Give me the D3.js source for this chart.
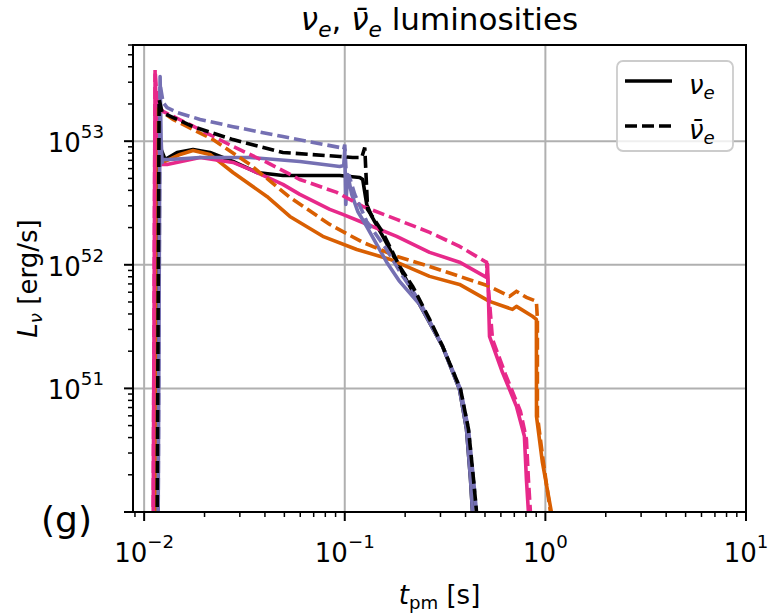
<!DOCTYPE html>
<html><head><meta charset="utf-8">
<script src="https://cdn.jsdelivr.net/npm/d3@7"></script>
<style>body{margin:0;background:#fff}svg{display:block}</style>
</head><body><svg id="c" width="770" height="615"></svg>
<script>
// ---- data: time [s], luminosity [erg/s] ----
const seriesNames = ["black", "orange", "magenta", "purple"];
const seriesColors = ["#000000", "#d95f02", "#e7298a", "#7570b3"];
const xTickExps = [-2, -1, 0, 1];
const yTickExps = [51, 52, 53];
const legendLabels = ["νe", "ν̄e"];

const blackNue = [[0.01161,8e49],[0.01174,1.5e53],[0.01215,8.57e52],[0.01272,7.11e52],[0.01459,8.1e52],[0.01753,8.57e52],[0.0213,8.1e52],[0.02772,6.85e52],[0.0365,5.58e52],[0.04914,5.28e52],[0.09443,5.28e52],[0.1188,5.09e52],[0.1229,4.9e52],[0.1287,3.08e52],[0.1363,2.46e52],[0.1581,1.6e52],[0.1877,9.53e51],[0.236,4.78e51],[0.3073,2.19e51],[0.3733,9.83e50],[0.4045,4.67e50],[0.4235,1.84e50],[0.4333,1.0e50],[0.437,8e49]];
const blackAnue = [[0.01161,8e49],[0.01188,2.17e53],[0.01229,1.71e53],[0.01753,1.31e53],[0.02772,1.03e53],[0.04914,8.1e52],[0.09443,7.52e52],[0.1096,7.38e52],[0.1215,7.38e52],[0.1258,8.89e52],[0.130,2.81e52],[0.1546,1.83e52],[0.1877,9.7e51],[0.218,6.69e51],[0.2648,3.62e51],[0.3073,2.19e51],[0.3777,9.83e50],[0.4138,4.67e50],[0.4383,1.84e50],[0.4536,1.0e50],[0.458,8e49]];
const purpleNue = [[0.01174,8e49],[0.01201,3.33e53],[0.01215,1.03e53],[0.01229,6.73e52],[0.01243,7.11e52],[0.01347,7.11e52],[0.019,7.38e52],[0.03368,7.38e52],[0.05971,6.85e52],[0.09443,6.24e52],[0.09886,6.36e52],[0.1,8.57e52],[0.1012,3.08e52],[0.1035,5.38e52],[0.1083,3.71e52],[0.1161,2.7e52],[0.1287,2.04e52],[0.1618,1.05e52],[0.1877,7.34e51],[0.236,4.78e51],[0.3073,2.19e51],[0.3733,9.83e50],[0.4045,4.67e50],[0.4235,1.84e50],[0.4333,1.0e50],[0.437,8e49]];
const purpleAnue = [[0.01174,8e49],[0.01201,2.87e53],[0.01243,2.06e53],[0.01301,1.87e53],[0.01459,1.71e53],[0.019,1.5e53],[0.02772,1.31e53],[0.04914,1.09e53],[0.09443,8.89e52],[0.09886,8.57e52],[0.1,9.4e52],[0.1023,4.47e52],[0.1047,5.38e52],[0.1122,3.71e52],[0.1287,2.24e52],[0.1618,1.33e52],[0.1877,8.84e51],[0.236,5.06e51],[0.3073,2.19e51],[0.3777,9.83e50],[0.4138,4.67e50],[0.4383,1.84e50],[0.4536,1.0e50],[0.458,8e49]];
const magentaNue = [[0.01109,8e49],[0.01134,3.46e53],[0.01161,1.24e53],[0.01201,6.48e52],[0.01301,6.48e52],[0.019,7.38e52],[0.02772,6.73e52],[0.03368,5.91e52],[0.04914,4.47e52],[0.05971,3.71e52],[0.0842,2.81e52],[0.09775,2.56e52],[0.1229,2.2e52],[0.1814,1.7e52],[0.2648,1.26e52],[0.3733,1.05e52],[0.5087,7.91e51],[0.5146,1.01e52],[0.5206,5.25e51],[0.5266,2.64e51],[0.6109,1.35e51],[0.7173,7.17e50],[0.786,4.1e50],[0.8044,1.84e50],[0.8231,1.0e50],[0.826,8e49]];
const magentaAnue = [[0.01109,8e49],[0.01134,3.8e53],[0.01161,1.98e53],[0.01243,1.74e53],[0.019,1.24e53],[0.02772,9.06e52],[0.04092,6.73e52],[0.05971,4.9e52],[0.09125,3.85e52],[0.1229,2.97e52],[0.1814,2.33e52],[0.2648,1.83e52],[0.3733,1.41e52],[0.4972,1.07e52],[0.5087,1.05e52],[0.5206,6.33e51],[0.5449,2.5e51],[0.6324,1.3e51],[0.7511,6.53e50],[0.8044,3.88e50],[0.8231,1.84e50],[0.8421,1.0e50],[0.846,8e49]];
const orangeNue = [[0.01134,8e49],[0.01147,1.36e53],[0.01188,7.11e52],[0.01272,6.85e52],[0.0151,7.81e52],[0.01753,8.41e52],[0.0213,7.81e52],[0.02772,5.58e52],[0.04092,3.57e52],[0.05325,2.46e52],[0.07773,1.7e52],[0.1148,1.33e52],[0.1674,1.11e52],[0.2648,8.06e51],[0.3733,6.94e51],[0.5266,5.06e51],[0.6851,4.36e51],[0.7173,4.61e51],[0.8617,3.83e51],[0.902,3.62e51],[0.903,5.95e50],[0.9663,2.53e50],[1.0712,1.0e50],[1.08,8e49]];
const orangeAnue = [[0.01134,8e49],[0.01161,1.8e53],[0.01243,1.71e53],[0.01394,1.5e53],[0.02204,1.03e53],[0.03368,6.48e52],[0.05325,3.51e52],[0.0842,2.12e52],[0.1229,1.52e52],[0.1814,1.17e52],[0.2648,9.7e51],[0.3733,8.06e51],[0.5266,6.69e51],[0.6622,5.55e51],[0.7173,6.1e51],[0.8044,5.45e51],[0.902,5.06e51],[0.9125,3.62e51],[0.9125,6e50],[0.9772,2.53e50],[1.06,1e50],[1.08,8e49]];

// ---- layout ----
const svg = d3.select("#c");
const L = 133, R = 746, T = 45, B = 512;
const FONT = "DejaVu Sans, sans-serif";
const LW = 3.6, DASH = "12,5";
const x = d3.scaleLog().domain([0.0088, 10]).range([L, R]);
const y = d3.scaleLog().domain([1e50, 6e53]).range([B, T]);

svg.append("defs").append("clipPath").attr("id", "clip")
  .append("rect").attr("x", L).attr("y", T).attr("width", R - L).attr("height", B - T);

// grid
const g = svg.append("g");
xTickExps.forEach(e => {
  g.append("line").attr("x1", x(Math.pow(10, e))).attr("x2", x(Math.pow(10, e)))
    .attr("y1", T).attr("y2", B).attr("stroke", "#b0b0b0").attr("stroke-width", 2);
});
yTickExps.forEach(e => {
  g.append("line").attr("y1", y(Math.pow(10, e))).attr("y2", y(Math.pow(10, e)))
    .attr("x1", L).attr("x2", R).attr("stroke", "#b0b0b0").attr("stroke-width", 2);
});

// curves
const line = d3.line().x(d => x(d[0])).y(d => y(d[1]));
const plot = svg.append("g").attr("clip-path", "url(#clip)");
const solids = [blackNue, orangeNue, magentaNue, purpleNue];
const dashes = [orangeAnue, magentaAnue, purpleAnue, blackAnue];
const solidCol = [0, 1, 2, 3].map(i => seriesColors[i]);
const dashCol = [1, 2, 3, 0].map(i => seriesColors[i]);
solids.forEach((s, i) => plot.append("path").datum(s).attr("d", line)
  .attr("fill", "none").attr("stroke", solidCol[i]).attr("stroke-width", LW)
  .attr("stroke-linejoin", "round"));
dashes.forEach((s, i) => plot.append("path").datum(s).attr("d", line)
  .attr("fill", "none").attr("stroke", dashCol[i]).attr("stroke-width", LW)
  .attr("stroke-dasharray", DASH));

// ticks
const axg = svg.append("g").attr("stroke", "#000");
for (let e = -3; e <= 1; e++) {
  for (let m = 1; m <= 9; m++) {
    const v = m * Math.pow(10, e);
    if (v < x.domain()[0] * 0.999 || v > 10.0001) continue;
    const len = m === 1 ? 9 : 5;
    axg.append("line").attr("x1", x(v)).attr("x2", x(v)).attr("y1", B).attr("y2", B + len)
      .attr("stroke-width", m === 1 ? 2 : 1.5);
  }
}
for (let e = 49; e <= 53; e++) {
  for (let m = 1; m <= 9; m++) {
    const v = m * Math.pow(10, e);
    if (v < 1e50 * 0.999 || v > 6e53 * 1.001) continue;
    const len = m === 1 ? 9 : 5;
    axg.append("line").attr("y1", y(v)).attr("y2", y(v)).attr("x1", L).attr("x2", L - len)
      .attr("stroke-width", m === 1 ? 2 : 1.5);
  }
}
svg.append("rect").attr("x", L).attr("y", T).attr("width", R - L).attr("height", B - T)
  .attr("fill", "none").attr("stroke", "#000").attr("stroke-width", 2);

// tick labels
function powLabel(sel, e) {
  sel.append("tspan").text("10");
  sel.append("tspan").attr("font-size", "0.7em").attr("dy", "-0.78em")
    .text(e < 0 ? "\u2212" + Math.abs(e) : String(e));
}
xTickExps.forEach(e => {
  const t = svg.append("text").attr("x", x(Math.pow(10, e))).attr("y", 562)
    .attr("text-anchor", "middle").attr("font-family", FONT).attr("font-size", 26);
  powLabel(t, e);
});
yTickExps.forEach(e => {
  const t = svg.append("text").attr("x", 104).attr("y", y(Math.pow(10, e)) + 11)
    .attr("text-anchor", "end").attr("font-family", FONT).attr("font-size", 26);
  powLabel(t, e);
});

// axis labels
const xl = svg.append("text").attr("x", (L + R) / 2).attr("y", 604).attr("text-anchor", "middle")
  .attr("font-family", FONT).attr("font-size", 26);
xl.append("tspan").attr("font-style", "italic").text("t");
xl.append("tspan").attr("font-size", "0.7em").attr("dy", "0.3em").text("pm");
xl.append("tspan").attr("dy", "-0.21em").text(" [s]");

const yl = svg.append("text").attr("transform", `translate(37,${(T + B) / 2}) rotate(-90)`)
  .attr("text-anchor", "middle").attr("font-family", FONT).attr("font-size", 26);
yl.append("tspan").attr("font-style", "italic").text("L");
yl.append("tspan").attr("font-style", "italic").attr("font-size", "0.7em").attr("dy", "0.3em").text("ν");
yl.append("tspan").attr("dy", "-0.21em").text(" [erg/s]");

// title
const tt = svg.append("text").attr("x", (L + R) / 2).attr("y", 30).attr("text-anchor", "middle")
  .attr("font-family", FONT).attr("font-size", 31);
tt.append("tspan").attr("font-style", "italic").text("ν");
tt.append("tspan").attr("font-style", "italic").attr("font-size", "0.7em").attr("dy", "0.3em").text("e");
tt.append("tspan").attr("dy", "-0.21em").text(", ");
tt.append("tspan").attr("font-style", "italic").text("ν\u0304");
tt.append("tspan").attr("font-style", "italic").attr("font-size", "0.7em").attr("dy", "0.3em").text("e");
tt.append("tspan").attr("dy", "-0.21em").text(" luminosities");

// (g)
svg.append("text").attr("x", 41).attr("y", 532).attr("font-family", FONT).attr("font-size", 36).text("(g)");

// legend
const lg = svg.append("g");
lg.append("rect").attr("x", 617).attr("y", 61).attr("width", 116).attr("height", 90).attr("rx", 6)
  .attr("fill", "#fff").attr("fill-opacity", 0.8).attr("stroke", "#cccccc").attr("stroke-width", 1.8);
const legY = [81, 126];
legendLabels.forEach((lab, i) => {
  lg.append("line").attr("x1", 625).attr("x2", 672).attr("y1", legY[i]).attr("y2", legY[i])
    .attr("stroke", "#000").attr("stroke-width", LW).attr("stroke-dasharray", i === 1 ? DASH : null);
  const t = lg.append("text").attr("x", 689).attr("y", legY[i] + 13).attr("font-family", FONT).attr("font-size", 26);
  t.append("tspan").attr("font-style", "italic").text(lab.slice(0, lab.length - 1));
  t.append("tspan").attr("font-style", "italic").attr("font-size", "0.7em").attr("dy", "0.3em").text("e");
});
</script></body></html>
